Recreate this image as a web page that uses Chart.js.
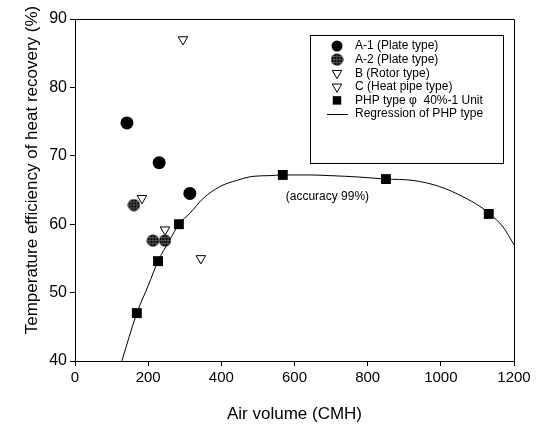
<!DOCTYPE html>
<html>
<head>
<meta charset="utf-8">
<script src="https://cdn.jsdelivr.net/npm/chart.js@4.4.0/dist/chart.umd.min.js"></script>
<style>
    html, body { margin: 0; padding: 0; background: #fff; }
</style>
</head>
<body>
<canvas id="effChart" width="547" height="429"></canvas>
<script>
// measured values (air volume CMH, efficiency %)
const a1X = [142, 230, 314];
const a1Y = [74.8, 69.0, 64.5];
const a2X = [161, 213, 246];
const a2Y = [62.8, 57.6, 57.6];
const bX = [295, 344];
const bY = [87.0, 55.0];
const cX = [183, 246];
const cY = [63.8, 59.2];
const phpX = [169, 227, 284, 568, 850, 1131];
const phpY = [47.0, 54.6, 60.0, 67.2, 66.6, 61.5];
const regX = [128, 169, 200, 227, 258, 284, 314, 351, 396, 442, 487, 533, 569, 642, 697, 775, 850, 924, 997, 1061, 1107, 1134, 1170, 1200];
const regY = [40.0, 47.0, 51.0, 54.6, 57.6, 60.0, 61.6, 63.8, 65.5, 66.4, 67.0, 67.1, 67.2, 67.2, 67.1, 66.9, 66.6, 66.4, 65.5, 64.0, 62.6, 61.5, 59.6, 57.0];
const xTicks = [0, 200, 400, 600, 800, 1000, 1200];
const yTicks = [40, 50, 60, 70, 80, 90];
const note = { text: '(accuracy 99%)', x: 690, y: 64 };

const FONT = "'Liberation Sans', Arial, sans-serif";

function toPoints(xs, ys) {
    return xs.map((x, i) => ({ x: x, y: ys[i] }));
}

// cross-hatched circle for A-2
function hatchedDot() {
    const c = document.createElement('canvas');
    c.width = 13; c.height = 13;
    const g = c.getContext('2d');
    g.beginPath();
    g.arc(6.5, 6.5, 6, 0, Math.PI * 2);
    g.fillStyle = '#000';
    g.fill();
    g.save();
    g.clip();
    g.strokeStyle = '#555';
    g.lineWidth = 1;
    for (let p = 3.5; p < 13; p += 3) {
        g.beginPath(); g.moveTo(p, 0); g.lineTo(p, 13); g.stroke();
        g.beginPath(); g.moveTo(0, p); g.lineTo(13, p); g.stroke();
    }
    g.restore();
    return c;
}
const a2Style = hatchedDot();

const datasets = [
    { label: 'A-1 (Plate type)', data: toPoints(a1X, a1Y), pointStyle: 'circle', pointRadius: 6.5,
      backgroundColor: '#000', borderColor: '#000', borderWidth: 0 },
    { label: 'A-2 (Plate type)', data: toPoints(a2X, a2Y), pointStyle: a2Style, pointRadius: 6.5,
      backgroundColor: '#111', borderColor: '#000', borderWidth: 0 },
    { label: 'B (Rotor type)', data: toPoints(bX, bY), pointStyle: 'triangle', pointRotation: 180, pointRadius: 5.5,
      backgroundColor: '#fff', borderColor: '#000', borderWidth: 1 },
    { label: 'C (Heat pipe type)', data: toPoints(cX, cY), pointStyle: 'triangle', pointRotation: 180, pointRadius: 5.5,
      backgroundColor: '#fff', borderColor: '#000', borderWidth: 1 },
    { label: 'PHP type \u03C6  40%-1 Unit', data: toPoints(phpX, phpY), pointStyle: 'rect', pointRadius: 7,
      backgroundColor: '#000', borderColor: '#000', borderWidth: 0 },
    { label: 'Regression of PHP type', data: toPoints(regX, regY), showLine: true, pointRadius: 0,
      borderColor: '#000', borderWidth: 1, cubicInterpolationMode: 'monotone', order: 10 }
];

const framePlugin = {
    id: 'frame',
    afterDraw(chart) {
        const ctx = chart.ctx;
        const a = chart.chartArea;
        ctx.save();
        ctx.strokeStyle = '#000';
        ctx.lineWidth = 1;
        ctx.beginPath();
        ctx.moveTo(a.left, a.top + 0.5);
        ctx.lineTo(a.right + 0.5, a.top + 0.5);
        ctx.lineTo(a.right + 0.5, a.bottom);
        ctx.stroke();

        // y axis title
        ctx.fillStyle = '#000';
        ctx.font = '17px ' + FONT;
        ctx.textAlign = 'center';
        ctx.textBaseline = 'middle';
        ctx.translate(32, 170);
        ctx.rotate(-Math.PI / 2);
        ctx.fillText('Temperature efficiency of heat recovery (%)', 0, 0);
        ctx.restore();

        // note on the curve
        ctx.save();
        ctx.fillStyle = '#000';
        ctx.font = '12px ' + FONT;
        ctx.textAlign = 'center';
        ctx.textBaseline = 'middle';
        ctx.fillText(note.text, chart.scales.x.getPixelForValue(note.x), chart.scales.y.getPixelForValue(note.y));
        ctx.restore();

        // legend box
        const bx = a.left + 235, by = a.top + 16, bw = 193, bh = 128;
        ctx.save();
        ctx.strokeStyle = '#000';
        ctx.lineWidth = 1;
        ctx.strokeRect(bx + 0.5, by + 0.5, bw, bh);
        ctx.font = '12px ' + FONT;
        ctx.textBaseline = 'middle';
        ctx.textAlign = 'left';
        chart.data.datasets.forEach((ds, i) => {
            const y = by + 11 + i * 13.6;
            const sx = bx + 27;
            if (ds.showLine) {
                ctx.beginPath();
                ctx.moveTo(sx - 10, y + 0.5);
                ctx.lineTo(sx + 11, y + 0.5);
                ctx.strokeStyle = ds.borderColor;
                ctx.lineWidth = ds.borderWidth;
                ctx.stroke();
            } else {
                ctx.fillStyle = ds.backgroundColor;
                ctx.strokeStyle = ds.borderColor;
                ctx.lineWidth = ds.borderWidth;
                Chart.helpers.drawPoint(ctx, {
                    pointStyle: ds.pointStyle,
                    radius: ds.pointStyle === 'rect' ? 6 : 5.5,
                    rotation: ds.pointRotation || 0,
                    borderWidth: ds.borderWidth
                }, sx, y);
            }
            ctx.fillStyle = '#000';
            ctx.fillText(ds.label, bx + 45, y);
        });
        ctx.restore();
    }
};

new Chart(document.getElementById('effChart').getContext('2d'), {
    type: 'scatter',
    data: { datasets: datasets },
    options: {
        responsive: false,
        devicePixelRatio: 1,
        animation: false,
        layout: { padding: { top: 19, right: 33, left: 0, bottom: 0 } },
        plugins: {
            legend: { display: false },
            tooltip: { enabled: false }
        },
        scales: {
            x: {
                type: 'linear',
                min: 0,
                max: 1200,
                afterFit(scale) { scale.height = 68; },
                afterBuildTicks(scale) { scale.ticks = xTicks.map(v => ({ value: v })); },
                grid: { display: true, drawOnChartArea: false, drawTicks: true, tickLength: 5, color: '#000' },
                border: { display: true, color: '#000', width: 1 },
                ticks: { color: '#000', font: { family: FONT, size: 15 }, padding: 3, maxRotation: 0,
                         callback: v => String(v) },
                title: { display: true, text: 'Air volume (CMH)', color: '#000', font: { family: FONT, size: 17 }, padding: { top: 4 } }
            },
            y: {
                type: 'linear',
                min: 40,
                max: 90,
                afterFit(scale) { scale.width = 75; },
                afterBuildTicks(scale) { scale.ticks = yTicks.map(v => ({ value: v })); },
                grid: { display: true, drawOnChartArea: false, drawTicks: true, tickLength: 5, color: '#000' },
                border: { display: true, color: '#000', width: 1 },
                ticks: { color: '#000', font: { family: FONT, size: 16 }, padding: 3,
                         callback: v => String(v) }
            }
        }
    },
    plugins: [framePlugin]
});
</script>
</body>
</html>
